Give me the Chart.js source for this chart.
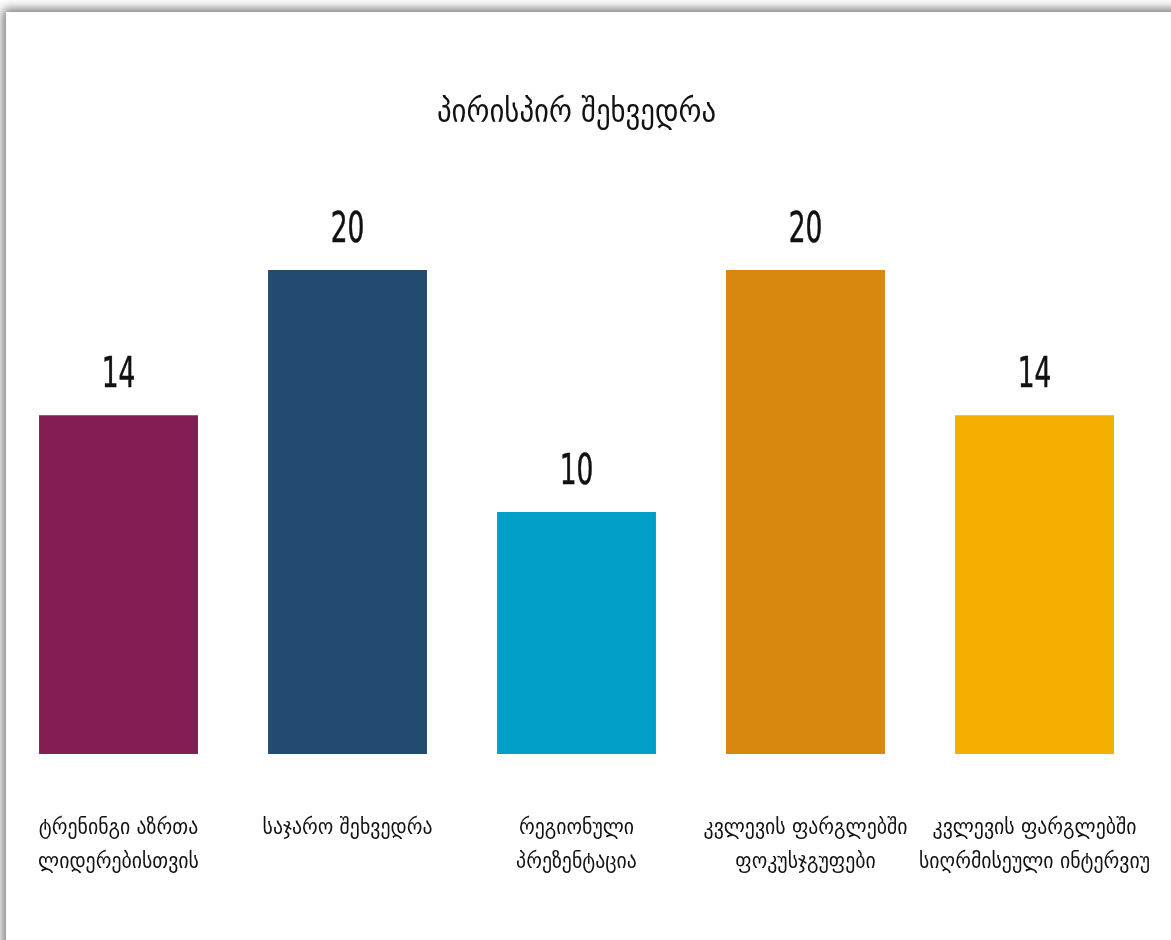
<!DOCTYPE html>
<html>
<head>
<meta charset="utf-8">
<script src="https://cdn.jsdelivr.net/npm/chart.js@4/dist/chart.umd.min.js"></script>
<style>
  html, body { margin: 0; padding: 0; background: #fff; overflow: hidden; }
  #wrap { position: relative; width: 1171px; height: 940px; background: #fff; overflow: hidden; }
  #card { position: absolute; left: 6px; top: 12px; width: 1300px; height: 1100px; background: #fff;
          box-shadow: -3px -3px 10px rgba(0,0,0,0.55); }
  #c { position: absolute; left: 0; top: 0; }
</style>
</head>
<body>
<div id="wrap">
  <div id="card"></div>
  <canvas id="c" width="1171" height="940"></canvas>
</div>
<script>
const title = "პირისპირ შეხვედრა";
const categories = [
  ["ტრენინგი აზრთა", "ლიდერებისთვის"],
  ["საჯარო შეხვედრა"],
  ["რეგიონული", "პრეზენტაცია"],
  ["კვლევის ფარგლებში", "ფოკუსჯგუფები"],
  ["კვლევის ფარგლებში", "სიღრმისეული ინტერვიუ"]
];
const values = [14, 20, 10, 20, 14];
const barColors = ["#831D52", "#224B71", "#00A0C8", "#D8870F", "#F4AE00"];

const FONT = "'DejaVu Sans Condensed', 'DejaVu Sans', sans-serif";

const valueLabels = {
  id: 'valueLabels',
  afterDatasetsDraw(chart) {
    const ctx = chart.ctx;
    const meta = chart.getDatasetMeta(0);
    ctx.save();
    ctx.fillStyle = '#111';
    ctx.strokeStyle = '#111';
    ctx.lineWidth = 0.5;
    ctx.font = "42px " + FONT;
    ctx.textAlign = 'center';
    ctx.textBaseline = 'middle';
    meta.data.forEach((bar, i) => {
      ctx.save();
      ctx.translate(bar.x, bar.y - 39);
      ctx.scale(0.7, 1);
      ctx.fillText(String(values[i]), 0, 0);
      ctx.strokeText(String(values[i]), 0, 0);
      ctx.restore();
    });
    ctx.restore();
  }
};

new Chart(document.getElementById('c'), {
  type: 'bar',
  data: {
    labels: categories,
    datasets: [{
      data: values,
      backgroundColor: barColors,
      borderWidth: 0,
      barPercentage: 0.694,
      categoryPercentage: 1.0
    }]
  },
  options: {
    responsive: false,
    animation: false,
    layout: { padding: { left: 4, right: 22, top: 0, bottom: 0 } },
    plugins: {
      legend: { display: false },
      tooltip: { enabled: false },
      title: {
        display: true,
        text: title,
        color: '#111',
        font: { family: FONT, size: 32, weight: 'normal', lineHeight: 1.2 },
        padding: { top: 94, bottom: 137.6 }
      }
    },
    scales: {
      x: {
        grid: { display: false, drawTicks: false },
        border: { display: false },
        ticks: {
          color: '#111',
          padding: 57,
          maxRotation: 0,
          autoSkip: false,
          font: { family: FONT, size: 22, lineHeight: 34 / 22 }
        },
        afterFit(scale) {
          scale.height = 186;
          scale.paddingLeft = 0;
          scale.paddingRight = 0;
        }
      },
      y: {
        display: false,
        min: 0,
        max: 20
      }
    }
  },
  plugins: [valueLabels]
});
</script>
</body>
</html>
